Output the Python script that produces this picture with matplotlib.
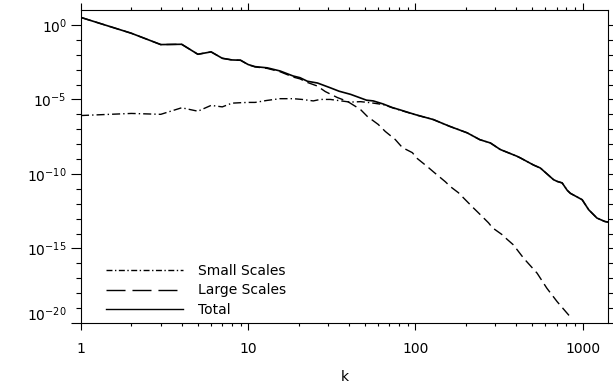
import numpy as np
import matplotlib
matplotlib.use("Agg")
import matplotlib.pyplot as plt
from matplotlib.lines import Line2D
from matplotlib.ticker import FixedLocator, LogFormatterMathtext, NullFormatter, LogLocator
import matplotlib.transforms as mtransforms

plt.rcParams['font.family'] = ['DejaVu Sans']
plt.rcParams['mathtext.default'] = 'regular'

# ---- data (log10 of spectrum values) ----
k_total = [1, 2, 3, 4, 5, 6, 7, 8, 9, 10, 11, 13, 15.5, 18.6, 20.4, 22.6, 26, 31, 35, 41,
           51, 56, 64, 73, 81, 100, 128, 160, 204, 243, 281, 322, 405, 424, 509, 559, 670,
           705, 755, 768, 810, 846, 995, 1088, 1220, 1360, 1420]
log_total = [0.5, -0.56, -1.32, -1.30, -1.97, -1.81, -2.24, -2.35, -2.37, -2.66, -2.8, -2.88,
             -3.09, -3.43, -3.54, -3.78, -3.9, -4.22, -4.45, -4.66, -5.05, -5.1, -5.3, -5.55,
             -5.7, -6.02, -6.35, -6.8, -7.24, -7.7, -7.92, -8.36, -8.81, -8.92, -9.4, -9.6,
             -10.38, -10.5, -10.6, -10.72, -11.1, -11.3, -11.73, -12.4, -12.96, -13.19, -13.23]

k_small = [1, 2, 3, 4, 5, 6, 7, 8, 9, 10, 11, 12.9, 15.5, 18.6, 21, 24.5, 27, 31, 36, 40.8,
           47, 53.8, 64, 73, 81, 100, 128, 160, 204, 243, 281, 322, 405, 424, 509, 559, 670,
           705, 755, 768, 810, 846, 995, 1088, 1220, 1360, 1420]
log_small = [-6.08, -5.94, -6.0, -5.56, -5.79, -5.4, -5.5, -5.25, -5.22, -5.2, -5.2, -5.07,
             -4.95, -4.95, -5.0, -5.1, -5.0, -5.0, -5.1, -5.18, -5.15, -5.22, -5.34, -5.56,
             -5.72, -6.03, -6.35, -6.8, -7.24, -7.7, -7.92, -8.36, -8.81, -8.92, -9.4, -9.6,
             -10.38, -10.5, -10.6, -10.72, -11.1, -11.3, -11.73, -12.4, -12.96, -13.19, -13.23]

k_large = [1, 2, 3, 4, 5, 6, 7, 8, 9, 10, 11, 13, 15.5, 18.6, 20.4, 22.6, 25.9, 28.9, 34.1,
           39.2, 46.9, 51.6, 60, 66.1, 75.8, 83.6, 95.9, 102.8, 118, 128, 151, 162, 181, 199,
           222, 238, 274, 289, 332, 346, 386, 444, 535, 612, 705, 846]
log_large = [0.5, -0.56, -1.32, -1.30, -1.97, -1.81, -2.24, -2.35, -2.37, -2.67, -2.82, -2.92,
             -3.14, -3.5, -3.62, -3.86, -4.1, -4.47, -4.87, -5.13, -5.67, -6.14, -6.68, -7.15,
             -7.69, -8.23, -8.57, -8.97, -9.51, -9.85, -10.52, -10.85, -11.26, -11.73, -12.27,
             -12.6, -13.28, -13.61, -14.09, -14.29, -14.76, -15.65, -16.66, -17.67, -18.57,
             -19.6]

x_ticks = [1, 10, 100, 1000]
x_ticklabels = ["1", "10", "100", "1000"]
y_major_exp = [0, -5, -10, -15, -20]
series_labels = ["Small Scales", "Large Scales", "Total"]
x_label = "k"

# ---- figure ----
W, H = 613, 386
fig = plt.figure(figsize=(W / 100, H / 100), dpi=100)
ax = fig.add_axes([81 / W, 1 - 323 / H, (608 - 81) / W, (323 - 10) / H])

dashdot = (0, (5.8, 2.2, 1.0, 2.2))
dashed = (0, (7.2, 3.6))

ax.plot(k_small, 10.0 ** np.array(log_small), color='black', lw=1.0, linestyle=dashdot)
ax.plot(k_large, 10.0 ** np.array(log_large), color='black', lw=1.0, linestyle=dashed)
ax.plot(k_total, 10.0 ** np.array(log_total), color='black', lw=1.2, linestyle='-')

ax.set_xscale('log')
ax.set_yscale('log')
ax.set_xlim(1, 1420)
ax.set_ylim(1e-20, 1e1)

ax.xaxis.set_major_locator(FixedLocator(x_ticks))
ax.set_xticklabels(x_ticklabels)
ax.xaxis.set_minor_locator(LogLocator(base=10, subs=np.arange(2, 10), numticks=20))
ax.xaxis.set_minor_formatter(NullFormatter())

ax.yaxis.set_major_locator(FixedLocator([10.0 ** e for e in y_major_exp]))
ax.yaxis.set_major_formatter(LogFormatterMathtext())
ax.yaxis.set_minor_locator(FixedLocator([10.0 ** e for e in range(-19, 1) if e % 5 != 0]))
ax.yaxis.set_minor_formatter(NullFormatter())

fs = 10
ax.tick_params(axis='both', which='both', direction='out', top=True, right=True,
               width=0.8, colors='black', labelsize=fs)
ax.tick_params(axis='x', which='major', length=4.8, pad=9)
ax.tick_params(axis='x', which='minor', length=2.2)
ax.tick_params(axis='y', which='major', length=7.2, pad=3)
ax.tick_params(axis='y', which='minor', length=3.6)
for s in ax.spines.values():
    s.set_linewidth(0.8)

ax.set_xlabel(x_label, fontsize=fs, labelpad=10)

# shift the bottom y label upward like the reference
fig.canvas.draw()
offset = mtransforms.ScaledTranslation(0, 7 / 72, fig.dpi_scale_trans)
for lab in ax.get_yticklabels():
    if '20' in lab.get_text():
        lab.set_transform(lab.get_transform() + offset)

handles = [Line2D([], [], color='black', lw=1.0, linestyle=(0, (4.3, 1.8, 1.0, 1.8))),
           Line2D([], [], color='black', lw=1.0, linestyle=(0, (13.7, 5.0))),
           Line2D([], [], color='black', lw=1.0, linestyle='-')]
ax.legend(handles, series_labels, loc='upper left', bbox_to_anchor=(0.0474, 0.19),
          frameon=False, fontsize=fs, handlelength=5.54, handletextpad=1.1,
          labelspacing=0.42, borderaxespad=0, borderpad=0)

fig.savefig('out.png', dpi=100)
